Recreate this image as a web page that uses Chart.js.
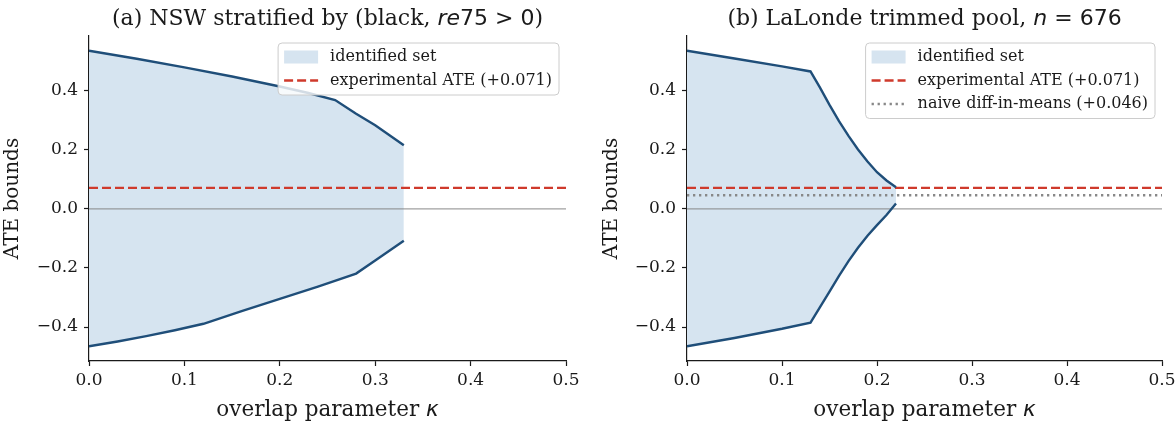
<!DOCTYPE html>
<html>
<head>
<meta charset="utf-8">
<script src="https://cdn.jsdelivr.net/npm/chart.js@4.4.0/dist/chart.umd.min.js"></script>
<style>
  html, body { margin: 0; padding: 0; background: #fff; }
  #wrap { position: relative; width: 1175px; height: 424px; overflow: hidden; }
  canvas { position: absolute; top: 0; }
</style>
</head>
<body>
<div id="wrap">
  <canvas id="chartA" width="587" height="424" style="left:0"></canvas>
  <canvas id="chartB" width="588" height="424" style="left:587px"></canvas>
</div>
<script>
"use strict";

// ---- data ----
const xTicks = [0, 0.1, 0.2, 0.3, 0.4, 0.5];
const yTicks = [-0.4, -0.2, 0, 0.2, 0.4];
const yLimits = [-0.515, 0.585];

const experimentalATE = 0.071;
const naiveDiff = 0.046;

// (a) NSW stratified
const kappaUpperA = [0, 0.05, 0.1, 0.15, 0.2, 0.23, 0.258, 0.28, 0.3, 0.33];
const upperA      = [0.535, 0.508, 0.479, 0.448, 0.414, 0.392, 0.368, 0.322, 0.283, 0.215];
const kappaLowerA = [0, 0.03, 0.06, 0.09, 0.12, 0.16, 0.2, 0.24, 0.28, 0.3, 0.33];
const lowerA      = [-0.465, -0.449, -0.431, -0.411, -0.389, -0.346, -0.305, -0.263, -0.219, -0.175, -0.108];

// (b) LaLonde trimmed pool
const kappaUpperB = [0, 0.05, 0.1, 0.13, 0.14, 0.15, 0.16, 0.17, 0.18, 0.19, 0.2, 0.21, 0.22];
const upperB      = [0.535, 0.509, 0.482, 0.465, 0.41, 0.352, 0.297, 0.247, 0.201, 0.16, 0.124, 0.096, 0.073];
const kappaLowerB = [0, 0.05, 0.1, 0.13, 0.14, 0.15, 0.16, 0.17, 0.18, 0.19, 0.2, 0.21, 0.22];
const lowerB      = [-0.465, -0.437, -0.406, -0.385, -0.333, -0.28, -0.227, -0.177, -0.132, -0.091, -0.055, -0.021, 0.018];

const titleA = [['(a) NSW stratified by (black, ', 'serif'], ['re', 'it'], ['75 > 0', 'math'], [')', 'serif']];
const titleB = [['(b) LaLonde trimmed pool, ', 'serif'], ['n', 'it'], [' = 676', 'math']];
const xLabel = [['overlap parameter ', 'label'], ['\u03ba', 'labelIt']];
const yLabel = 'ATE bounds';

const legendA = ['identified set', 'experimental ATE (+0.071)'];
const legendB = ['identified set', 'experimental ATE (+0.071)', 'naive diff-in-means (+0.046)'];

// ---- styles ----
const BLUE = '#1f4e79';
const FILL = '#d6e4f0';
const RED = '#cf3a2c';
const DOT = '#888888';
const ZERO = 'rgba(128,128,128,0.75)';
const INK = '#1a1a1a';
const SERIF = '"DejaVu Serif", serif';

const FONTS = {
  serif: '22px ' + SERIF,
  it: 'italic 22px "DejaVu Sans"',
  math: '22px "DejaVu Sans"',
  label: '21.5px ' + SERIF,
  labelIt: 'italic 21.5px "DejaVu Sans"'
};

function pts(xs, ys) { return xs.map((x, i) => ({ x, y: ys[i] })); }
function hline(y) { return [{ x: xTicks[0], y }, { x: xTicks[xTicks.length - 1], y }]; }
function fmt(v) { return v.toFixed(1).replace('-', '\u2212'); }

function drawParts(ctx, parts, cx, baseline) {
  const widths = parts.map(p => { ctx.font = FONTS[p[1]]; return ctx.measureText(p[0]).width; });
  let x = cx - widths.reduce((a, b) => a + b, 0) / 2;
  ctx.textAlign = 'left';
  ctx.textBaseline = 'alphabetic';
  ctx.fillStyle = INK;
  parts.forEach((p, i) => { ctx.font = FONTS[p[1]]; ctx.fillText(p[0], x, baseline); x += widths[i]; });
}

// title + x label with mixed fonts
const textPlugin = {
  id: 'mixedText',
  afterDraw(chart, args, opts) {
    const { ctx, chartArea: ca } = chart;
    const cx = (ca.left + ca.right) / 2;
    ctx.save();
    drawParts(ctx, opts.title, cx, 25);
    drawParts(ctx, xLabel, cx, 416);
    ctx.restore();
  }
};

// matplotlib-style legend box in the upper right of the axes
const boxLegend = {
  id: 'boxLegend',
  afterDatasetsDraw(chart, args, opts) {
    const { ctx, chartArea: ca } = chart;
    const items = opts.items;
    ctx.save();
    ctx.font = '16px ' + SERIF;
    const textW = Math.max(...items.map(it => ctx.measureText(it.text).width));
    const padL = 6, handleW = 34, gap = 12, padR = 7, rowH = 23.5;
    const w = padL + handleW + gap + textW + padR;
    const h = items.length * rowH + 5;
    const x = ca.right - 7 - w, y = ca.top + 7;
    ctx.beginPath();
    ctx.roundRect(x, y, w, h, 4);
    ctx.fillStyle = 'rgba(255,255,255,0.8)';
    ctx.fill();
    ctx.strokeStyle = '#cccccc';
    ctx.lineWidth = 1;
    ctx.stroke();
    items.forEach((it, i) => {
      const cy = y + 14 + i * rowH;
      const hx = x + padL;
      if (it.patch) {
        ctx.fillStyle = FILL;
        ctx.fillRect(hx, cy - 6.5, handleW, 13);
      } else {
        ctx.beginPath();
        ctx.strokeStyle = it.color;
        ctx.lineWidth = it.width;
        ctx.setLineDash(it.dash);
        ctx.moveTo(hx, cy);
        ctx.lineTo(hx + handleW, cy);
        ctx.stroke();
        ctx.setLineDash([]);
      }
      ctx.fillStyle = INK;
      ctx.textAlign = 'left';
      ctx.textBaseline = 'middle';
      ctx.fillText(it.text, hx + handleW + gap, cy);
    });
    ctx.restore();
  }
};

function makeChart(id, p) {
  const datasets = [
    { data: pts(p.kU, p.U), borderColor: BLUE, borderWidth: 2.4, fill: '+1', backgroundColor: FILL },
    { data: pts(p.kL, p.L), borderColor: BLUE, borderWidth: 2.4, fill: false },
    { data: hline(experimentalATE), borderColor: RED, borderWidth: 2.3, borderDash: [9, 4], fill: false }
  ];
  if (p.naive) {
    datasets.push({ data: hline(naiveDiff), borderColor: DOT, borderWidth: 2.3, borderDash: [2.3, 3.7], fill: false });
  }
  datasets.push({ data: hline(0), borderColor: ZERO, borderWidth: 1.3, fill: false });

  return new Chart(document.getElementById(id), {
    type: 'line',
    data: { datasets },
    plugins: [textPlugin, boxLegend],
    options: {
      responsive: false,
      animation: false,
      devicePixelRatio: 1,
      layout: { padding: { top: 36, right: p.padRight, left: 0, bottom: 0 } },
      elements: { point: { radius: 0 }, line: { tension: 0 } },
      plugins: {
        legend: { display: false },
        tooltip: { enabled: false },
        filler: { drawTime: 'beforeDatasetsDraw' },
        mixedText: { title: p.title },
        boxLegend: { items: p.legend }
      },
      scales: {
        x: {
          type: 'linear',
          min: xTicks[0],
          max: xTicks[xTicks.length - 1],
          afterBuildTicks: a => { a.ticks = xTicks.map(v => ({ value: v })); },
          afterFit: a => { a.height = 63; a.paddingLeft = 0; a.paddingRight = 0; },
          ticks: { callback: v => v.toFixed(1), font: { family: SERIF, size: 17 }, color: INK, padding: 4, maxRotation: 0, autoSkip: false },
          grid: { drawOnChartArea: false, color: INK, tickLength: 5, tickWidth: 1.2 },
          border: { color: INK, width: 1.2 }
        },
        y: {
          type: 'linear',
          min: yLimits[0],
          max: yLimits[1],
          afterBuildTicks: a => { a.ticks = yTicks.map(v => ({ value: v })); },
          afterFit: a => { a.width = p.yWidth; a.paddingTop = 0; a.paddingBottom = 0; },
          ticks: { callback: v => fmt(v), font: { family: SERIF, size: 17 }, color: INK, padding: 6, autoSkip: false },
          grid: { drawOnChartArea: false, color: INK, tickLength: 5, tickWidth: 1.2 },
          border: { color: INK, width: 1.2 },
          title: { display: true, text: yLabel, font: { family: SERIF, size: 20 }, color: INK, padding: { top: p.yTitlePad, bottom: 0 } }
        }
      }
    }
  });
}

makeChart('chartA', {
  kU: kappaUpperA, U: upperA, kL: kappaLowerA, L: lowerA,
  naive: false, title: titleA, padRight: 21, yWidth: 89, yTitlePad: 1,
  legend: [
    { text: legendA[0], patch: true },
    { text: legendA[1], color: RED, width: 2.3, dash: [9, 4] }
  ]
});

makeChart('chartB', {
  kU: kappaUpperB, U: upperB, kL: kappaLowerB, L: lowerB,
  naive: true, title: titleB, padRight: 13, yWidth: 100, yTitlePad: 13,
  legend: [
    { text: legendB[0], patch: true },
    { text: legendB[1], color: RED, width: 2.3, dash: [9, 4] },
    { text: legendB[2], color: DOT, width: 2.3, dash: [2.3, 3.7] }
  ]
});
</script>
</body>
</html>
